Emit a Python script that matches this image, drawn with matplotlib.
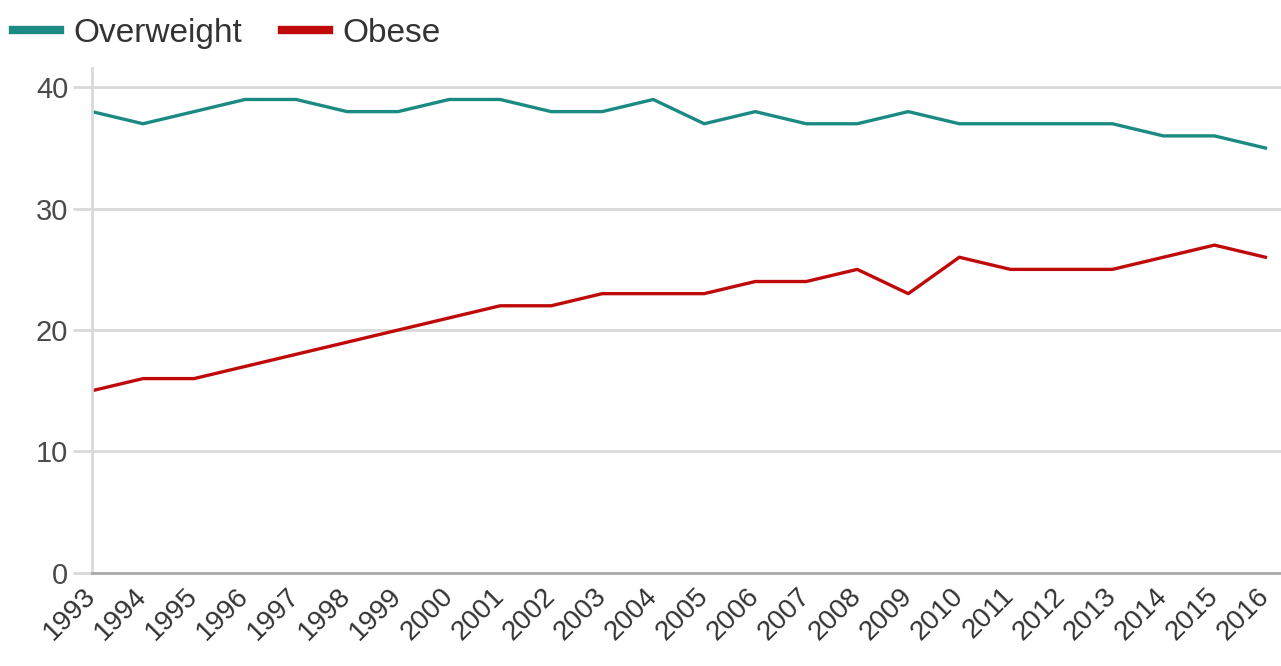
import matplotlib
matplotlib.use("Agg")
import matplotlib.pyplot as plt
import matplotlib.transforms as mtransforms

years = list(range(1993, 2017))
overweight = [38, 37, 38, 39, 39, 38, 38, 39, 39, 38, 38, 39,
              37, 38, 37, 37, 38, 37, 37, 37, 37, 36, 36, 35]
obese = [15, 16, 16, 17, 18, 19, 20, 21, 22, 22, 23, 23,
         23, 24, 24, 25, 23, 26, 25, 25, 25, 26, 27, 26]
y_ticks = [0, 10, 20, 30, 40]

TEAL = "#1b8a82"
RED = "#c00a0a"
TXT = "#333333"
GRID = "#d9d9d9"

plt.rcParams["font.family"] = ["Liberation Sans", "DejaVu Sans"]

fig = plt.figure(figsize=(12.81, 6.66), dpi=100)
ax = fig.add_axes([0.0718, 0.140, 0.928, 0.758])

ax.plot(years, overweight, color=TEAL, lw=2.4, label="Overweight", solid_joinstyle="round")
ax.plot(years, obese, color=RED, lw=2.4, label="Obese", solid_joinstyle="round")

ax.set_xlim(1993, 2016.3)
ax.set_ylim(0, 41.6)
ax.set_yticks(y_ticks)
ax.set_yticklabels([str(v) for v in y_ticks], fontsize=21, color="#4a4a4a")
ax.set_xticks(years)
ax.set_xticklabels([str(y) for y in years], rotation=45, ha="right", va="center",
                   rotation_mode="anchor", fontsize=20, color=TXT)

# nudge the rotated year labels a little to the right, like the reference
shift = mtransforms.ScaledTranslation(6 / 100, 0, fig.dpi_scale_trans)
for lbl in ax.get_xticklabels():
    lbl.set_transform(lbl.get_transform() + shift)

ax.grid(axis="y", color=GRID, lw=2)
ax.set_axisbelow(True)
for s in ["top", "right"]:
    ax.spines[s].set_visible(False)
ax.spines["left"].set_color(GRID)
ax.spines["left"].set_linewidth(2)
ax.spines["bottom"].set_color("#aaaaaa")
ax.spines["bottom"].set_linewidth(2)
ax.tick_params(axis="y", length=14, width=2, color=GRID, pad=3)
ax.tick_params(axis="x", length=0, pad=14)

fig.legend(loc="upper left", bbox_to_anchor=(-0.013, 1.018), ncol=2, frameon=False,
           fontsize=24, handlelength=1.4, handletextpad=0.4, columnspacing=1.2,
           labelcolor=TXT)
for line in fig.legends[0].get_lines():
    line.set_linewidth(6)

fig.savefig("out.png", dpi=100)
